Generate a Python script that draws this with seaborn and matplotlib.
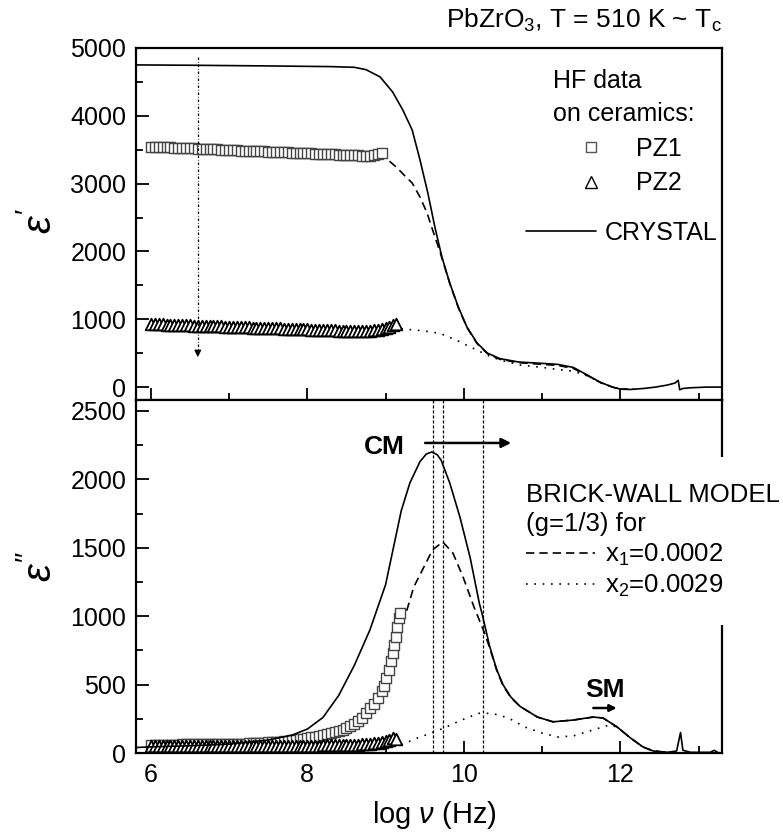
import matplotlib
matplotlib.use("Agg")
import matplotlib.pyplot as plt
from matplotlib.lines import Line2D
from matplotlib.ticker import MultipleLocator
import seaborn as sns

# ---------------- data ----------------
# crystal, real part eps'
cr1_x = [5.81, 6.5, 7.5, 8.3, 8.6, 8.75, 8.93, 9.09, 9.22, 9.34, 9.44, 9.54, 9.63, 9.72, 9.82,
         9.93, 10.04, 10.17, 10.30, 10.46, 10.7, 11.0, 11.2, 11.4, 11.58, 11.74, 11.9, 12.0,
         12.13, 12.3, 12.45, 12.6, 12.7, 12.74, 12.76, 12.8, 12.9, 13.1, 13.3]
cr1_y = [4750, 4745, 4735, 4725, 4715, 4680, 4573, 4351, 4086, 3791, 3348, 2862, 2360, 1918, 1534,
         1180, 885, 649, 502, 420, 370, 350, 335, 290, 177, 74, 0, -30,
         -35, -20, 0, 30, 60, 100, -40, -20, -10, 0, 0]
# brick-wall model x1 = 0.0002, eps'
x1r_x = [9.05, 9.15, 9.25, 9.34, 9.44, 9.53, 9.61, 9.70, 9.82, 9.93, 10.04, 10.17, 10.30, 10.46,
         10.7, 11.0, 11.2, 11.4, 11.58, 11.74, 11.9, 12.0, 12.1]
x1r_y = [3330, 3230, 3110, 3009, 2802, 2567, 2286, 1977, 1530, 1170, 880, 640, 495, 410,
         360, 335, 320, 275, 170, 70, 0, -30, -30]
# brick-wall model x2 = 0.0029, eps'
x2r_x = [9.2, 9.48, 9.70, 9.91, 10.04, 10.17, 10.30, 10.46, 10.72, 10.97, 11.23, 11.4, 11.58,
         11.74, 11.9, 12.05, 12.2]
x2r_y = [860, 830, 790, 690, 615, 545, 470, 400, 325, 295, 255, 235, 165, 70, 0, -30, -30]

# HF measurement frequencies (log Hz) of the ceramics
hf_logf = [6.00, 6.05, 6.10, 6.15, 6.20, 6.25, 6.30, 6.35, 6.40, 6.45,
           6.50, 6.55, 6.60, 6.65, 6.70, 6.75, 6.80, 6.85, 6.90, 6.95,
           7.00, 7.05, 7.10, 7.15, 7.20, 7.25, 7.30, 7.35, 7.40, 7.45,
           7.50, 7.55, 7.60, 7.65, 7.70, 7.75, 7.80, 7.85, 7.90, 7.95,
           8.00, 8.05, 8.10, 8.15, 8.20, 8.25, 8.30, 8.35, 8.40, 8.45,
           8.50, 8.55, 8.60, 8.65, 8.70, 8.75, 8.80, 8.85, 8.90, 8.95]
pz2_extra_f = [9.00, 9.05, 9.10, 9.13]
pz1_extra_f = [8.98, 9.01, 9.04, 9.07, 9.09, 9.11, 9.13, 9.15, 9.17, 9.18]

pz1_eps1 = [3545, 3543, 3540, 3538, 3535, 3533, 3530, 3528, 3525, 3523,
            3520, 3518, 3515, 3513, 3511, 3508, 3506, 3503, 3501, 3498,
            3496, 3493, 3491, 3488, 3486, 3484, 3481, 3479, 3476, 3474,
            3471, 3469, 3466, 3464, 3462, 3459, 3457, 3454, 3452, 3449,
            3447, 3444, 3442, 3440, 3437, 3435, 3432, 3430, 3427, 3425,
            3422, 3420, 3417, 3415, 3413, 3410, 3408, 3415, 3430, 3450]
pz2_eps1 = [930, 928, 926, 924, 922, 920, 918, 916, 914, 912,
            910, 908, 906, 904, 902, 900, 898, 896, 894, 892,
            890, 888, 886, 884, 882, 880, 878, 876, 874, 872,
            870, 868, 866, 864, 862, 860, 858, 856, 854, 852,
            850, 848, 846, 844, 842, 840, 838, 836, 834, 832,
            831, 830, 830, 830, 830, 831, 833, 837, 843, 852,
            868, 890, 915, 925]
pz1_eps2 = [62, 62, 62, 62, 62, 62, 62, 62, 63, 63,
            63, 63, 63, 63, 64, 64, 64, 64, 65, 65,
            66, 66, 67, 68, 69, 70, 71, 72, 73, 75,
            77, 79, 81, 83, 86, 89, 92, 96, 100, 105,
            110, 115, 120, 126, 132, 139, 146, 154, 162, 171,
            180, 195, 212, 232, 255, 290, 330, 360, 400, 450,
            490, 550, 610, 670, 730, 790, 850, 920, 990, 1020]
pz2_eps2 = [48, 48, 48, 48, 48, 48, 48, 48, 48, 48,
            48, 48, 48, 48, 49, 49, 49, 49, 49, 49,
            49, 49, 50, 50, 50, 50, 50, 50, 50, 51,
            51, 51, 51, 51, 52, 52, 52, 52, 52, 53,
            53, 53, 54, 54, 55, 55, 56, 56, 57, 58,
            59, 60, 61, 62, 64, 66, 68, 71, 74, 78,
            86, 96, 112, 105]

# crystal, imaginary part eps''
cr2_x = [5.81, 6.0, 6.6, 7.0, 7.5, 7.8, 8.0, 8.2, 8.4, 8.6, 8.8, 9.0, 9.1, 9.2, 9.31, 9.44, 9.52,
         9.59, 9.66, 9.71, 9.82, 9.95, 10.08, 10.2, 10.23, 10.33, 10.42, 10.5, 10.6, 10.72,
         10.94, 11.14, 11.4, 11.65, 11.78, 11.96, 12.13, 12.29, 12.42, 12.6, 12.72, 12.77, 12.8,
         12.9, 13.0, 13.15, 13.2, 13.25, 13.3]
cr2_y = [40, 45, 55, 65, 95, 130, 175, 260, 420, 640, 900, 1230, 1500, 1770, 1973, 2130, 2185,
         2200, 2180, 2140, 1974, 1725, 1430, 1090, 1025, 780, 610, 500, 410, 340,
         263, 228, 241, 263, 256, 190, 110, 44, 15, 5, 15, 150, 20,
         5, 5, 5, 20, 3, 0]
x1i_x = [9.27, 9.36, 9.49, 9.6, 9.73, 9.86, 9.99, 10.13, 10.25, 10.33, 10.42, 10.5, 10.6, 10.72,
         10.94, 11.14, 11.4, 11.65, 11.78, 11.96, 12.13, 12.29, 12.42, 12.6]
x1i_y = [1040, 1213, 1360, 1484, 1543, 1462, 1287, 1067, 899, 770, 605, 495, 405, 340,
         263, 228, 241, 262, 255, 190, 110, 44, 15, 5]
x2i_x = [9.2, 9.41, 9.58, 9.75, 9.97, 10.19, 10.36, 10.57, 10.78, 11.0, 11.2, 11.4, 11.63,
         11.86, 11.96, 12.13, 12.29, 12.42, 12.6]
x2i_y = [60, 110, 146, 183, 241, 290, 290, 256, 190, 146, 117, 125, 165,
         205, 190, 110, 44, 15, 5]

# characteristic frequencies (vertical guides) and annotations
guide_x = [9.61, 9.74, 10.24]
cm_arrow = ([9.47, 10.64], 2266)
sm_arrow = ([11.62, 11.99], 329)

# ---------------- style ----------------
sns.set_theme(style="white")
plt.rcParams["font.family"] = ["Liberation Sans", "DejaVu Sans"]
plt.rcParams["mathtext.fontset"] = "custom"
plt.rcParams["mathtext.rm"] = "Liberation Sans"
plt.rcParams["mathtext.it"] = "Liberation Sans:italic"
plt.rcParams["mathtext.bf"] = "Liberation Sans:bold"
for key in ("text.color", "axes.labelcolor", "xtick.color", "ytick.color", "axes.edgecolor"):
    plt.rcParams[key] = "black"

FS = 18
fig = plt.figure(figsize=(7.83, 8.34), dpi=100)
ax1 = fig.add_axes([0.1737, 0.5204, 0.7484, 0.4221])
ax2 = fig.add_axes([0.1737, 0.0971, 0.7484, 0.4233])

DASH = (0, (5, 3))
DOT = (0, (1, 4))
sq_kw = dict(marker="s", s=52, color="white", edgecolor="#444444", linewidth=1.0, zorder=2)
tri_kw = dict(marker="^", s=70, color="white", edgecolor="black", linewidth=1.3, zorder=2)
line_kw = dict(color="black", sort=False, estimator=None, legend=False, zorder=3)

# top panel
sns.scatterplot(x=hf_logf, y=pz1_eps1, ax=ax1, **sq_kw)
sns.scatterplot(x=hf_logf + pz2_extra_f, y=pz2_eps1, ax=ax1, **tri_kw)
sns.lineplot(x=cr1_x, y=cr1_y, ax=ax1, linewidth=1.2, **line_kw)
sns.lineplot(x=x1r_x, y=x1r_y, ax=ax1, linewidth=1.2, linestyle=DASH, **line_kw)
sns.lineplot(x=x2r_x, y=x2r_y, ax=ax1, linewidth=1.2, linestyle=DOT, **line_kw)

# bottom panel
sns.scatterplot(x=hf_logf + pz1_extra_f, y=pz1_eps2, ax=ax2, **sq_kw)
sns.scatterplot(x=hf_logf + pz2_extra_f, y=pz2_eps2, ax=ax2, **tri_kw)
sns.lineplot(x=cr2_x, y=cr2_y, ax=ax2, linewidth=1.2, **line_kw)
sns.lineplot(x=x1i_x, y=x1i_y, ax=ax2, linewidth=1.2, linestyle=DASH, **line_kw)
sns.lineplot(x=x2i_x, y=x2i_y, ax=ax2, linewidth=1.2, linestyle=DOT, **line_kw)
for gx in guide_x:
    ax2.axvline(gx, color="black", lw=0.9, ls=(0, (2.5, 1.5)), zorder=1)

# arrows / labels
ax1.plot([6.6, 6.6], [4870, 520], color="black", lw=0.9, ls=(0, (2, 1.5, 0.6, 1.5)))
ax1.annotate("", xy=(6.6, 400), xytext=(6.6, 560),
             arrowprops=dict(arrowstyle="-|>", color="black", lw=0.9, mutation_scale=10))
ax2.annotate("", xy=(cm_arrow[0][1], cm_arrow[1]), xytext=(cm_arrow[0][0], cm_arrow[1]),
             arrowprops=dict(arrowstyle="-|>", color="black", lw=1.8, mutation_scale=14))
ax2.annotate("", xy=(sm_arrow[0][1], sm_arrow[1]), xytext=(sm_arrow[0][0], sm_arrow[1]),
             arrowprops=dict(arrowstyle="-|>", color="black", lw=1.8, mutation_scale=10))
ax2.text(8.98, 2237, "CM", fontsize=19, weight="bold", ha="center", va="center")
ax2.text(11.8, 460, "SM", fontsize=19, weight="bold", ha="center", va="center")

# axes formatting
for ax in (ax1, ax2):
    ax.set_xlim(5.81, 13.3)
    ax.xaxis.set_major_locator(MultipleLocator(2))
    ax.xaxis.set_minor_locator(MultipleLocator(1))
    ax.tick_params(which="both", direction="in", left=True, bottom=True, top=False, right=False,
                   colors="black", labelsize=FS, pad=7)
    ax.tick_params(which="major", length=9, width=1.3)
    ax.tick_params(which="minor", length=5, width=1.3)
    for sp in ax.spines.values():
        sp.set_linewidth(1.6)
        sp.set_color("black")

ax1.set_ylim(-190, 5000)
ax1.yaxis.set_major_locator(MultipleLocator(1000))
ax1.yaxis.set_minor_locator(MultipleLocator(500))
ax1.tick_params(labelbottom=False)
ax2.set_ylim(0, 2580)
ax2.yaxis.set_major_locator(MultipleLocator(500))
ax2.yaxis.set_minor_locator(MultipleLocator(250))

ax1.set_ylabel(r"$\varepsilon'$", fontsize=29, va="center")
ax1.yaxis.set_label_coords(-0.165, 0.51)
ax2.set_ylabel(r"$\varepsilon''$", fontsize=29, va="center")
ax2.yaxis.set_label_coords(-0.165, 0.53)
ax2.set_xlabel(r"log $\mathit{\nu}$ (Hz)", fontsize=21, va="center")
ax2.xaxis.set_label_coords(0.51, -0.176)

fig.text(722 / 783, 1 - 20 / 834, r"PbZrO$_3$, T = 510 K ~ T$_\mathrm{c}$", ha="right",
         va="center", fontsize=19)

# legends
h_sq = Line2D([], [], ls="none", marker="s", ms=7.5, mfc="white", mec="#555555", mew=1)
h_tri = Line2D([], [], ls="none", marker="^", ms=9, mfc="white", mec="black", mew=1)
leg1 = ax1.legend([h_sq, h_tri], ["PZ1", "PZ2"], title="HF data\non ceramics:",
                  loc="upper left", bbox_to_anchor=((553 - 136) / 586, (400 - 69) / 352),
                  frameon=False, fontsize=FS, title_fontsize=FS, handlelength=3.0,
                  handletextpad=0.3, labelspacing=0.42, borderpad=0, borderaxespad=0,
                  alignment="left", labelcolor="black")
leg1.get_title().set_linespacing(1.5)
leg1.get_title().set_color("black")
ax1.add_artist(leg1)
h_cr = Line2D([], [], color="black", lw=1.2)
ax1.legend([h_cr], ["CRYSTAL"], loc="center left",
           bbox_to_anchor=((526 - 136) / 586, (400 - 233) / 352), frameon=False,
           fontsize=FS, handlelength=2.8, handletextpad=0.35, borderpad=0, borderaxespad=0,
           labelcolor="black")

h_d = Line2D([], [], color="black", lw=1.2, ls=DASH)
h_o = Line2D([], [], color="black", lw=1.2, ls=DOT)
leg2 = ax2.legend([h_d, h_o], [r"x$_1$=0.0002", r"x$_2$=0.0029"],
                  title="BRICK-WALL MODEL\n(g=1/3) for", loc="upper left",
                  bbox_to_anchor=((500 - 136) / 586, (753 - 457) / 353),
                  frameon=True, facecolor="white", edgecolor="none", framealpha=1,
                  fancybox=False, fontsize=18.5, title_fontsize=18.5, handlelength=2.7,
                  handletextpad=0.4, labelspacing=0.2, borderpad=1.0, borderaxespad=0,
                  alignment="left", labelcolor="black")
leg2.get_title().set_linespacing(1.3)
leg2.get_title().set_color("black")
leg2.set_zorder(10)

fig.savefig("out.png", dpi=100)
